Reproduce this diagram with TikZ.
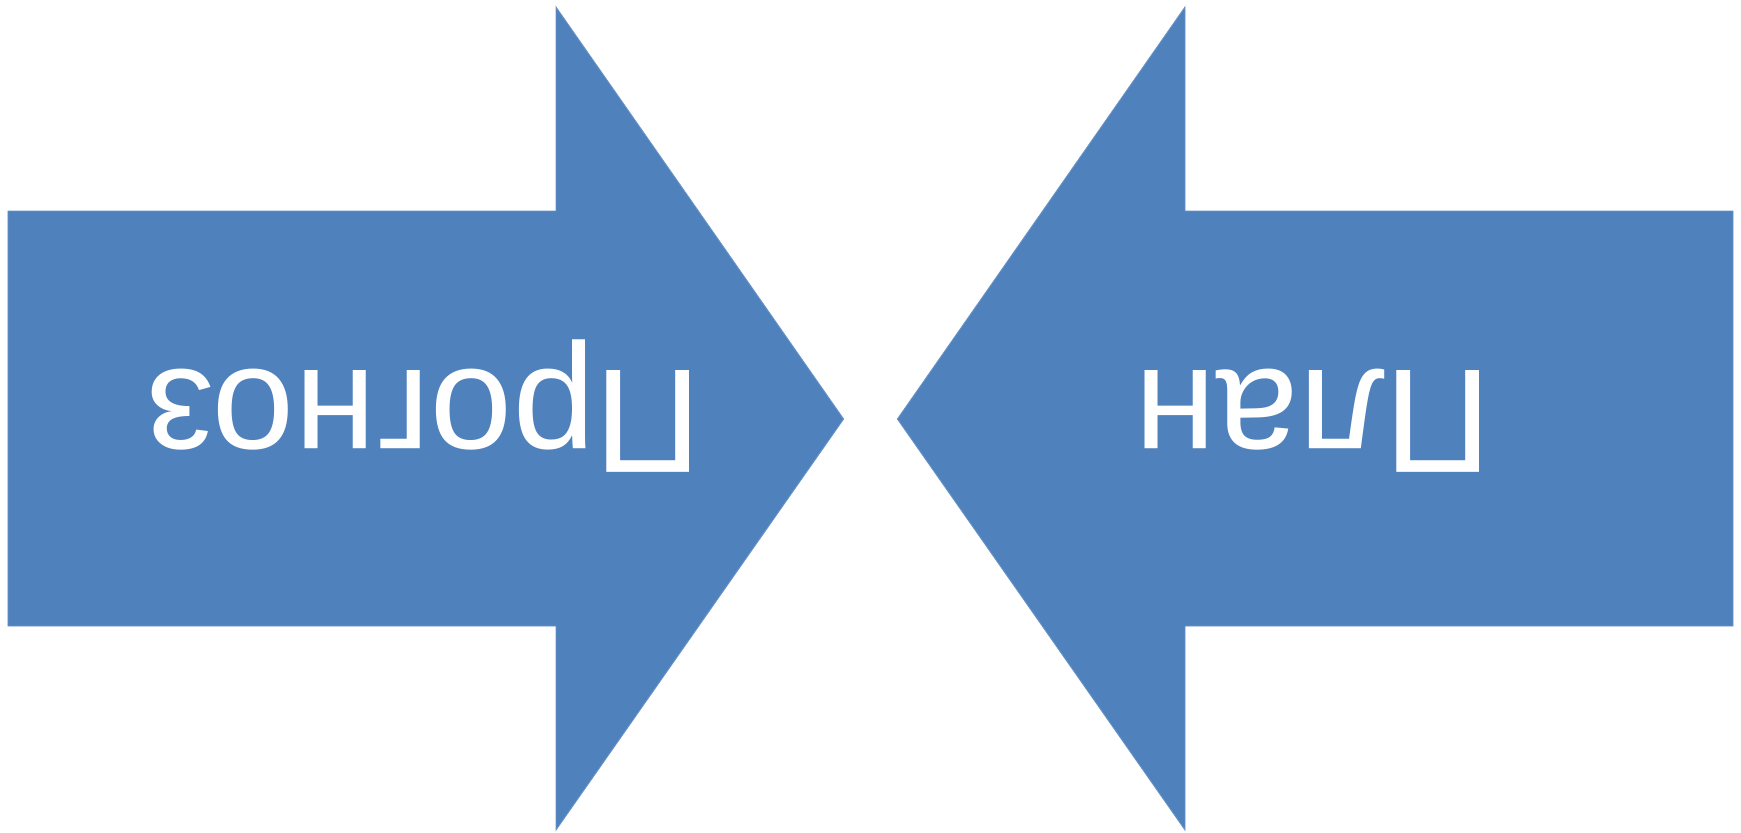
\documentclass[tikz,border=0pt]{standalone}
\usepackage{fontspec}
\setmainfont{Liberation Sans}
\usetikzlibrary{positioning}
\definecolor{arrowblue}{HTML}{4F81BD}

\tikzset{
  bigarrow/.style={fill=arrowblue, draw=arrowblue!85!white, line width=0.25pt, line join=miter},
  upsidelabel/.style={text=white, inner sep=0pt, anchor=base, rotate=180,
    font=\fontsize{42.1}{50}\selectfont}
}

\begin{document}
\begin{tikzpicture}[x=0.01cm, y=-0.01cm]

% Canvas: 1741 x 832 (units = reference pixels)
\useasboundingbox (0,0) rectangle (1741,832);

% Left arrow, pointing right
\draw[bigarrow] (8,211) -- (556,211) -- (556,7) -- (843.6,419)
  -- (556,830) -- (556,626) -- (8,626) -- cycle;

% Right arrow, pointing left (mirror of the left one)
\draw[bigarrow] (1733,211) -- (1185,211) -- (1185,7) -- (897.4,419)
  -- (1185,830) -- (1185,626) -- (1733,626) -- cycle;

% Labels (printed upside down)
\node[upsidelabel] (forecast) at (424,370.5) {Прогноз};
\node[upsidelabel] (plan) at (1313,370.5) {План};

\end{tikzpicture}
\end{document}
